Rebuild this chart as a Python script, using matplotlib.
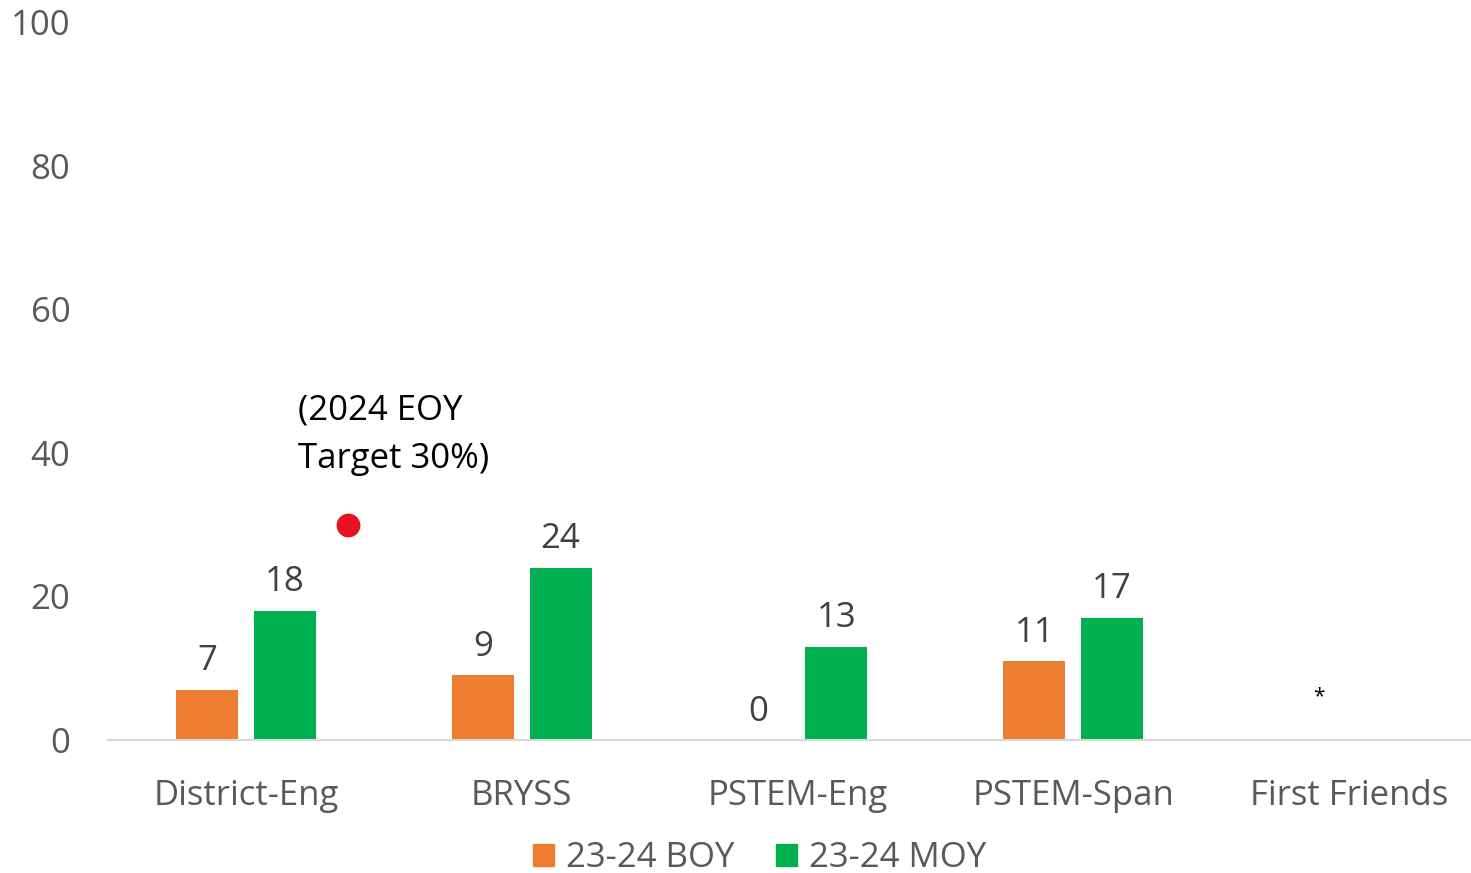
#!/usr/bin/env python3

import numpy as np
import matplotlib
matplotlib.use('Agg')
import matplotlib.pyplot as plt
from matplotlib.patches import Patch

plt.rcParams['font.family'] = ['Open Sans', 'DejaVu Sans']

categories = ['District-Eng', 'BRYSS', 'PSTEM-Eng', 'PSTEM-Span', 'First Friends']
boy = [7, 9, 0, 11, None]
moy = [18, 24, 13, 17, None]
target = 30
target_label = '(2024 EOY\nTarget 30%)'
yticks = [0, 20, 40, 60, 80, 100]

ORANGE = '#ED7D31'
GREEN = '#00B050'
RED = '#E81123'
TICK = '#595959'
LABEL = '#404040'

fig = plt.figure(figsize=(14.71, 8.73), dpi=100)
# plot area runs a little past the right edge of the picture
ax = fig.add_axes([108 / 1471, 1 - 740 / 873, (1487 - 108) / 1471, (740 - 22) / 873])

x = np.arange(len(categories))
w = 0.225
off = 0.141

boy_vals = [np.nan if v is None else v for v in boy]
moy_vals = [np.nan if v is None else v for v in moy]
ax.bar(x - off, boy_vals, w, color=ORANGE, label='23-24 BOY')
ax.bar(x + off, moy_vals, w, color=GREEN, label='23-24 MOY')

for xi, v in zip(x - off, boy):
    if v is not None:
        ax.text(xi, v + 1.6, str(v), ha='center', va='bottom', fontsize=25, color=LABEL)
for xi, v in zip(x + off, moy):
    if v is not None:
        ax.text(xi, v + 1.6, str(v), ha='center', va='bottom', fontsize=25, color=LABEL)

# target marker for District-Eng
ax.scatter([x[0] + 0.37], [target], s=260, color=RED, zorder=3)
ax.text(x[0] + 0.19, 36.8, target_label, ha='left', va='bottom', fontsize=25,
        color='black', linespacing=1.55)

# no data for First Friends
ax.text(x[4] - 0.11, 6, '*', ha='center', va='center', fontsize=15, color='black')

ax.set_xlim(-0.5, len(categories) - 0.5)
ax.set_ylim(0, 100)
ax.set_yticks(yticks)
ax.set_xticks(x)
ax.set_xticklabels(categories)
ax.tick_params(axis='both', length=0, labelsize=25, colors=TICK)
ax.tick_params(axis='x', pad=28)
ax.tick_params(axis='y', pad=27)
for s in ['top', 'right', 'left']:
    ax.spines[s].set_visible(False)
ax.spines['bottom'].set_color('#D9D9D9')
ax.spines['bottom'].set_linewidth(1.5)

handles = [Patch(color=ORANGE, label='23-24 BOY'), Patch(color=GREEN, label='23-24 MOY')]
leg = fig.legend(handles=handles, loc='center', bbox_to_anchor=(760 / 1471, 1 - 858 / 873),
                 ncol=2, frameon=False, fontsize=25, handlelength=0.6, handleheight=0.6,
                 handletextpad=0.35, columnspacing=1.2)
for t in leg.get_texts():
    t.set_color(TICK)

plt.savefig('out.png', dpi=100)
plt.close()
